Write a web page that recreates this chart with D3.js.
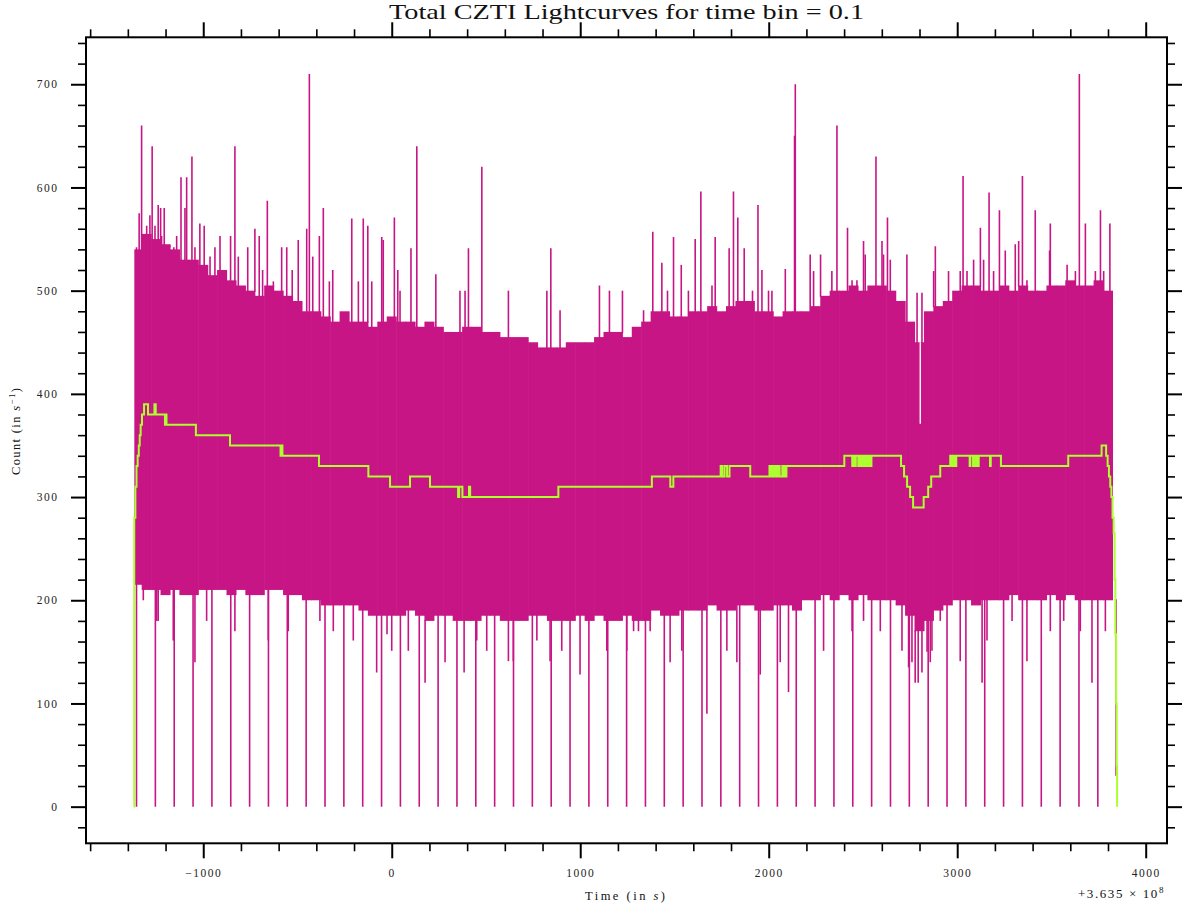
<!DOCTYPE html>
<html>
<head>
<meta charset="utf-8">
<script src="https://cdn.jsdelivr.net/npm/d3@7"></script>
<style>
  body { margin: 0; background: #fff; }
  svg { display: block; }
  .tick text { font-family: "Liberation Serif", serif; font-size: 11.5px; letter-spacing: 1.5px; fill: #222; }
  .label { font-family: "Liberation Serif", serif; fill: #111; }
</style>
</head>
<body>
<svg id="chart" width="1191" height="908"></svg>
<script>
// ---- data (time offset from 3.635e8 s) ----
const dataStart = -1368;
const dataEnd = 3848;

// band of the 0.1 s light curve, one value per 50 s bucket (centres -1350 ... 3800)
const bandUpper = [540, 555, 550, 545, 540, 530, 530, 525, 515, 520, 510, 505, 500, 495, 505, 500, 495, 490,
  480, 480, 475, 470, 480, 470, 470, 465, 470, 475, 470, 470, 465, 470, 465, 460, 460, 465, 465, 460, 460,
  455, 455, 455, 450, 445, 445, 445, 450, 450, 450, 455, 460, 460, 455, 465, 470, 480, 480, 475, 475, 480,
  480, 485, 480, 485, 490, 490, 480, 480, 475, 480, 480, 480, 485, 495, 500, 500, 505, 500, 505, 505, 500,
  490, 470, 450, 480, 485, 490, 500, 505, 505, 500, 500, 505, 500, 505, 500, 500, 505, 505, 510, 505, 505,
  510, 500];
const bandLower = [215, 210, 210, 205, 210, 205, 205, 210, 210, 210, 205, 210, 205, 205, 210, 210, 205, 205,
  200, 200, 195, 195, 195, 195, 190, 185, 185, 185, 185, 190, 185, 180, 185, 185, 180, 180, 180, 185, 185,
  180, 180, 180, 185, 185, 180, 180, 180, 185, 180, 185, 180, 180, 185, 180, 180, 190, 185, 185, 190, 190,
  190, 195, 190, 190, 195, 195, 190, 190, 195, 195, 190, 200, 200, 205, 200, 205, 200, 205, 200, 200, 200,
  195, 185, 170, 180, 190, 195, 200, 200, 195, 200, 200, 200, 205, 200, 200, 200, 205, 200, 205, 200, 200,
  200, 200];

// single bins sticking out above the band: [time, count]
const peaks = [
  [-1354, 542], [-1340, 575], [-1327, 660], [-1300, 563], [-1283, 573], [-1271, 640], [-1256, 563],
  [-1239, 583], [-1226, 580], [-1221, 553], [-1207, 580], [-1177, 542], [-1156, 542], [-1141, 553],
  [-1118, 610], [-1097, 580], [-1088, 610], [-1060, 630], [-1044, 542], [-1018, 565], [-995, 563],
  [-964, 533], [-938, 542], [-911, 553], [-855, 553], [-832, 640], [-814, 533], [-764, 542], [-726, 560],
  [-703, 553], [-685, 520], [-660, 587], [-628, 509], [-584, 542], [-557, 542], [-528, 520], [-496, 549],
  [-451, 560], [-437, 710], [-419, 533], [-384, 553], [-363, 580], [-331, 509], [-313, 520], [-212, 570],
  [-177, 509], [-151, 570], [-127, 563], [-106, 509], [-53, 552], [-45, 549], [14, 571], [32, 520],
  [44, 500], [102, 541], [133, 640], [234, 516], [362, 500], [389, 500], [407, 541], [478, 620], [619, 500],
  [823, 500], [844, 541], [893, 481], [1102, 505], [1155, 500], [1224, 500], [1336, 481], [1385, 557],
  [1433, 527], [1463, 500], [1495, 552], [1536, 525], [1574, 500], [1610, 550], [1640, 596], [1699, 505],
  [1716, 552], [1790, 541], [1813, 596], [1836, 571], [1870, 541], [1914, 500], [1943, 583], [1964, 520],
  [1999, 500], [2017, 500], [2088, 521], [2137, 650], [2141, 700], [2220, 535], [2238, 519], [2275, 535],
  [2335, 519], [2362, 660], [2418, 561], [2442, 510], [2468, 510], [2503, 548], [2512, 535], [2569, 630],
  [2601, 548], [2609, 535], [2630, 571], [2645, 530], [2733, 535], [2787, 498], [2813, 498], [2875, 519],
  [2884, 543], [2954, 519], [3016, 519], [3031, 611], [3052, 519], [3087, 530], [3123, 561], [3140, 530],
  [3169, 595], [3193, 519], [3224, 578], [3255, 539], [3308, 545], [3326, 548], [3346, 611], [3370, 510],
  [3414, 578], [3490, 539], [3494, 565], [3583, 525], [3627, 519], [3648, 710], [3680, 565], [3733, 519],
  [3760, 578], [3777, 519], [3810, 565]
];

// single bins reaching below the band: [time, count]
const dips = [
  [-1318, 200], [-1247, 180], [-1239, 180], [-1159, 161], [-1044, 140], [-982, 180], [-832, 170],
  [-655, 161], [-549, 170], [-381, 180], [-310, 170], [-204, 161], [-80, 130], [-25, 167], [0, 151],
  [88, 151], [177, 120], [283, 140], [384, 130], [451, 161], [504, 151], [619, 141], [645, 141], [770, 161],
  [840, 141], [902, 151], [999, 128], [1141, 151], [1247, 151], [1283, 170], [1309, 170], [1371, 170],
  [1477, 140], [1539, 151], [1672, 90], [1778, 151], [1831, 140], [1955, 128], [2061, 140], [2105, 111],
  [2291, 151], [2442, 170], [2503, 180], [2592, 170], [2707, 151], [2742, 135], [2760, 140], [2777, 120],
  [2793, 120], [2813, 130], [2840, 150], [2857, 140], [2866, 151], [2910, 180], [3016, 141], [3132, 120],
  [3158, 161], [3291, 180], [3370, 141], [3494, 170], [3565, 180], [3653, 170], [3715, 120], [3786, 170],
  [3843, 30]
];

// bins that drop to zero
const dropouts = [-1354, -1254, -1154, -1054, -954, -854, -754, -654, -554, -454, -354, -254, -154, -54,
  46, 146, 246, 346, 446, 546, 646, 746, 846, 946, 1046, 1146, 1246, 1346, 1446, 1546, 1646, 1746, 1846,
  1946, 2046, 2146, 2246, 2346, 2446, 2546, 2646, 2746, 2846, 2946, 3046, 3146, 3246, 3346, 3446, 3546,
  3646, 3746];

// a bin column whose maximum stays low: [time, max count]
const gaps = [[2804, 371]];

// smoothed curve (green), step points [time, count]
const smooth = [
  [-1368, 0], [-1366, 280], [-1360, 310], [-1354, 330], [-1348, 340], [-1342, 350], [-1337, 360],
  [-1332, 370], [-1325, 380], [-1314, 390], [-1293, 380], [-1259, 390], [-1252, 380], [-1203, 370],
  [-1199, 380], [-1195, 370], [-1039, 360], [-858, 350], [-590, 340], [-586, 350], [-580, 340], [-386, 330],
  [-124, 320], [-9, 310], [97, 320], [203, 310], [352, 300], [358, 310], [375, 300], [410, 310], [416, 300],
  [884, 310], [1380, 320], [1478, 310], [1494, 320],
  [1745, 330], [1754, 320], [1766, 330], [1779, 320], [1792, 330], [1902, 320],
  [2004, 330], [2010, 320], [2018, 330], [2026, 320], [2034, 330], [2042, 320], [2050, 330], [2058, 320],
  [2072, 330], [2078, 320], [2086, 330], [2090, 320], [2094, 330],
  [2401, 340], [2443, 330], [2450, 340], [2456, 330], [2462, 340], [2475, 330], [2482, 340], [2490, 330],
  [2497, 340], [2505, 330], [2512, 340], [2520, 330], [2528, 340], [2536, 330], [2545, 340],
  [2702, 330], [2718, 320], [2734, 310], [2750, 300], [2766, 290], [2822, 300], [2846, 310], [2862, 320],
  [2910, 330], [2963, 340], [2970, 330], [2978, 340], [2986, 330], [2995, 340],
  [3066, 330], [3070, 340], [3084, 330], [3090, 340], [3096, 330], [3100, 340], [3107, 330], [3114, 340],
  [3174, 330], [3178, 340], [3232, 330], [3589, 340], [3766, 350], [3790, 340], [3798, 330], [3805, 320],
  [3812, 310], [3818, 300], [3824, 280], [3830, 265], [3835, 220], [3839, 167], [3843, 100], [3846, 40],
  [3848, 0]
];

const xMajor = [-1000, 0, 1000, 2000, 3000, 4000];
const xMinor = [-1600, -1400, -1200, -800, -600, -400, -200, 200, 400, 600, 800, 1200, 1400, 1600, 1800,
  2200, 2400, 2600, 2800, 3200, 3400, 3600, 3800];
const yMajor = [0, 100, 200, 300, 400, 500, 600, 700];
const yMinor = [-20, 20, 40, 60, 80, 120, 140, 160, 180, 220, 240, 260, 280, 320, 340, 360, 380, 420, 440,
  460, 480, 520, 540, 560, 580, 620, 640, 660, 680, 720, 740];

// ---- setup ----
const svg = d3.select("#chart");
const margin = {top: 37.3, right: 24, bottom: 64.7, left: 86};
const width = 1191, height = 908;
const plotRight = width - margin.right;
const plotBottom = height - margin.bottom;

const MAGENTA = "#c71585";
const GREEN = "#adff2f";

const x = d3.scaleLinear().domain([-1622, 4113]).range([margin.left, plotRight]);
const y = d3.scaleLinear().domain([-35.5, 745.5]).range([plotBottom, margin.top]);

svg.append("clipPath").attr("id", "plotClip")
  .append("rect")
    .attr("x", margin.left).attr("y", margin.top)
    .attr("width", plotRight - margin.left).attr("height", plotBottom - margin.top);

const plot = svg.append("g").attr("clip-path", "url(#plotClip)");

// ---- band ----
const buckets = d3.range(-1350, 3801, 50).map((t, i) => ({
  t0: Math.max(t - 25, dataStart + 4),
  t1: Math.min(t + 25, 3836),
  hi: bandUpper[i],
  lo: bandLower[i]
}));

plot.selectAll("rect.band")
  .data(buckets)
    .enter()
  .append("rect")
    .attr("class", "band")
    .attr("x", d => x(d.t0) - 0.3)
    .attr("width", d => x(d.t1) - x(d.t0) + 0.6)
    .attr("y", d => y(d.hi))
    .attr("height", d => y(d.lo) - y(d.hi))
    .attr("fill", MAGENTA);

function bucketOf(t) {
  const i = Math.max(0, Math.min(buckets.length - 1, Math.round((t + 1350) / 50)));
  return buckets[i];
}

// spikes above the band
plot.selectAll("line.peak")
  .data(peaks)
    .enter()
  .append("line")
    .attr("class", "peak")
    .attr("x1", d => x(d[0])).attr("x2", d => x(d[0]))
    .attr("y1", d => y(bucketOf(d[0]).hi) + 1)
    .attr("y2", d => y(d[1]))
    .attr("stroke", MAGENTA)
    .attr("stroke-width", 1.6);

// spikes below the band
plot.selectAll("line.dip")
  .data(dips)
    .enter()
  .append("line")
    .attr("class", "dip")
    .attr("x1", d => x(d[0])).attr("x2", d => x(d[0]))
    .attr("y1", d => y(bucketOf(d[0]).lo) - 1)
    .attr("y2", d => y(d[1]))
    .attr("stroke", MAGENTA)
    .attr("stroke-width", 1.6);

// drops to zero
plot.selectAll("line.drop")
  .data(dropouts)
    .enter()
  .append("line")
    .attr("class", "drop")
    .attr("x1", d => x(d)).attr("x2", d => x(d))
    .attr("y1", d => y(bucketOf(d).lo) - 1)
    .attr("y2", y(0))
    .attr("stroke", MAGENTA)
    .attr("stroke-width", 1.6);

// low column inside the band
plot.selectAll("line.gap")
  .data(gaps)
    .enter()
  .append("line")
    .attr("class", "gap")
    .attr("x1", d => x(d[0])).attr("x2", d => x(d[0]))
    .attr("y1", d => y(bucketOf(d[0]).hi))
    .attr("y2", d => y(d[1]))
    .attr("stroke", "#fff")
    .attr("stroke-width", 1.4);

// ---- smoothed curve ----
plot.append("path")
  .datum(smooth)
    .attr("fill", "none")
    .attr("stroke", GREEN)
    .attr("stroke-width", 2)
    .attr("d", d3.line().x(d => x(d[0])).y(d => y(d[1])).curve(d3.curveStepAfter));

// ---- axes ----
const fmt = d3.format("d");

function styleAxis(g, w) {
  g.select(".domain").remove();
  g.selectAll(".tick line").attr("stroke", "#000").attr("stroke-width", w);
}

svg.append("g").attr("transform", `translate(0,${plotBottom})`)
  .call(d3.axisBottom(x).tickValues(xMajor).tickSize(15).tickPadding(11).tickFormat(fmt))
  .call(g => styleAxis(g, 2));
svg.append("g").attr("transform", `translate(0,${plotBottom})`)
  .call(d3.axisBottom(x).tickValues(xMinor).tickSize(8).tickFormat(""))
  .call(g => styleAxis(g, 1.6));
svg.append("g").attr("transform", `translate(0,${margin.top})`)
  .call(d3.axisTop(x).tickValues(xMajor).tickSize(15).tickFormat(""))
  .call(g => styleAxis(g, 2));
svg.append("g").attr("transform", `translate(0,${margin.top})`)
  .call(d3.axisTop(x).tickValues(xMinor).tickSize(8).tickFormat(""))
  .call(g => styleAxis(g, 1.6));

svg.append("g").attr("transform", `translate(${margin.left},0)`)
  .call(d3.axisLeft(y).tickValues(yMajor).tickSize(15).tickPadding(12.5).tickFormat(fmt))
  .call(g => styleAxis(g, 2));
svg.append("g").attr("transform", `translate(${margin.left},0)`)
  .call(d3.axisLeft(y).tickValues(yMinor).tickSize(8).tickFormat(""))
  .call(g => styleAxis(g, 1.6));
svg.append("g").attr("transform", `translate(${plotRight},0)`)
  .call(d3.axisRight(y).tickValues(yMajor).tickSize(15).tickFormat(""))
  .call(g => styleAxis(g, 2));
svg.append("g").attr("transform", `translate(${plotRight},0)`)
  .call(d3.axisRight(y).tickValues(yMinor).tickSize(8).tickFormat(""))
  .call(g => styleAxis(g, 1.6));

svg.append("rect")
  .attr("x", margin.left).attr("y", margin.top)
  .attr("width", plotRight - margin.left).attr("height", plotBottom - margin.top)
  .attr("fill", "none").attr("stroke", "#000").attr("stroke-width", 2);

// ---- titles ----
svg.append("text")
  .attr("class", "label")
  .attr("x", (margin.left + plotRight) / 2).attr("y", 18.5)
  .attr("text-anchor", "middle")
  .attr("font-size", 22)
  .attr("textLength", 475).attr("lengthAdjust", "spacingAndGlyphs")
  .text("Total CZTI Lightcurves for time bin = 0.1");

const xlab = svg.append("text")
  .attr("class", "label")
  .attr("x", 625).attr("y", 900)
  .attr("text-anchor", "middle")
  .attr("font-size", 12.5)
  .attr("textLength", 80).attr("lengthAdjust", "spacing");
xlab.append("tspan").text("Time (in ");
xlab.append("tspan").attr("font-style", "italic").text("s");
xlab.append("tspan").text(")");

const ylab = svg.append("text")
  .attr("class", "label")
  .attr("transform", "translate(20,431.5) rotate(-90)")
  .attr("text-anchor", "middle")
  .attr("font-size", 12.5)
  .attr("textLength", 87).attr("lengthAdjust", "spacing");
ylab.append("tspan").text("Count (in ");
ylab.append("tspan").attr("font-style", "italic").text("s");
ylab.append("tspan").attr("font-size", 9).attr("dy", -5).text("−1");
ylab.append("tspan").attr("dy", 5).text(")");

const off = svg.append("text")
  .attr("class", "label")
  .attr("x", 1165).attr("y", 898)
  .attr("text-anchor", "end")
  .attr("font-size", 13)
  .attr("letter-spacing", 1.6);
off.append("tspan").text("+3.635 × 10");
off.append("tspan").attr("font-size", 9).attr("dy", -5).text("8");
</script>
</body>
</html>
